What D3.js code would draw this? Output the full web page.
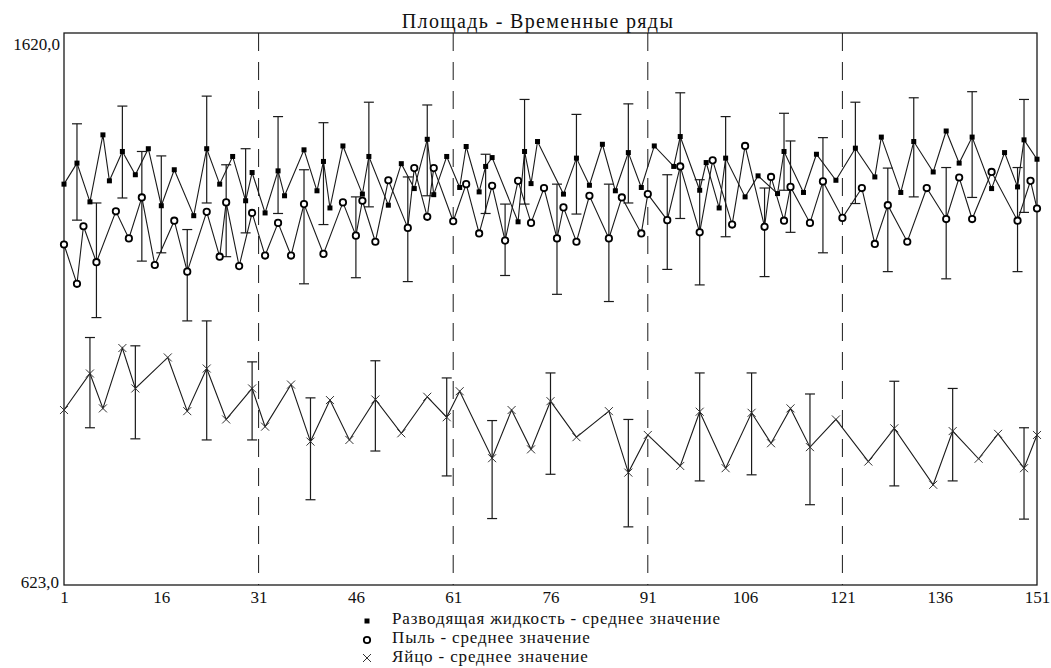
<!DOCTYPE html>
<html>
<head>
<meta charset="utf-8">
<script src="https://cdn.jsdelivr.net/npm/d3@7"></script>
<style>
  body { margin: 0; background: #fff; }
  svg { display: block; }
  text { font-family: "Liberation Serif", "Times New Roman", Tinos, "DejaVu Serif", serif; fill: #111; }
</style>
</head>
<body>
<svg id="chart"></svg>
<script>
document.addEventListener("DOMContentLoaded", function() {
  const width = 1051;
  const height = 668;
  const margin = {top: 33, right: 14, bottom: 83, left: 64};

  const title = "Площадь - Временные ряды";
  const yMin = 623, yMax = 1620;
  const xTicks = [1, 16, 31, 46, 61, 76, 91, 106, 121, 136, 151];
  const markers = [31, 61, 91, 121];

  // Разводящая жидкость (squares)
  const fluidX = [1,3,5,7,8,10,12,14,16,18,21,23,25,27,29,30,32,34,35,38,40,41,42,44,47,48,51,53,55,57,58,60,62,63,65,66,67,71,72,73,74,78,80,82,84,86,88,90,92,95,96,99,100,102,103,106,108,111,112,115,117,120,123,126,127,130,132,135,137,139,141,144,146,148,149,151];
  const fluidY = [1347,1385,1315,1436,1353,1406,1364,1411,1308,1373,
                  1290,1411,1347,1397,1317,1368,1295,1371,1326,1409,
                  1335,1388,1304,1416,1329,1397,1309,1384,1339,1428,
                  1328,1397,1341,1415,1333,1379,1395,1279,1406,1348,
                  1424,1329,1394,1345,1419,1335,1404,1341,1416,1379,
                  1433,1336,1386,1304,1394,1324,1362,1330,1406,1332,
                  1401,1354,1412,1360,1432,1332,1424,1369,1443,1385,
                  1432,1339,1404,1342,1427,1392];
  const fluidErrX  = [3,10,16,23,29,34,41,48,57,66,72,80,88,96,103,112,123,132,141,149];
  const fluidErrHi = [1456,1488,1398,1506,1411,1469,1458,1495,1490,1401,1500,1473,1492,1512,1469,1475,1495,1503,1514,1500];
  const fluidErrLo = [1282,1322,1223,1313,1259,1294,1274,1306,1326,1294,1311,1293,1313,1285,1252,1336,1312,1324,1323,1296];

  // Пыль (circles)
  const dustX = [1,3,4,6,9,11,13,15,18,20,23,25,26,28,30,32,34,36,38,41,44,46,47,49,51,54,55,57,58,61,63,65,67,69,71,73,75,77,78,80,82,85,87,90,91,94,96,99,101,104,106,109,110,112,113,116,118,121,124,126,128,131,134,137,139,141,144,148,150,151];
  const dustY = [1238,1167,1271,1206,1298,1249,1323,1201,1281,1189,
                 1297,1216,1314,1199,1295,1218,1277,1218,1311,1221,
                 1314,1254,1317,1243,1354,1268,1376,1288,1376,1280,
                 1347,1258,1344,1245,1353,1277,1340,1249,1305,1243,
                 1326,1249,1323,1258,1329,1282,1379,1260,1390,1274,
                 1416,1270,1360,1281,1342,1277,1352,1286,1340,1239,
                 1309,1243,1340,1284,1359,1284,1369,1281,1353,1303];
  const dustErrX  = [6,13,20,26,38,46,54,69,77,85,94,99,109,113,118,128,137,148];
  const dustErrHi = [1313,1406,1265,1382,1373,1324,1360,1311,1347,1347,1364,1355,1340,1425,1431,1376,1377,1377];
  const dustErrLo = [1106,1208,1100,1216,1167,1178,1171,1182,1148,1135,1193,1165,1180,1260,1223,1189,1176,1189];

  // Яйцо (crosses)
  const eggX = [1,5,7,10,12,17,20,23,26,30,32,36,39,42,45,49,53,57,60,62,67,70,73,76,80,85,88,91,96,99,103,107,110,113,116,120,125,129,135,138,142,145,149,151];
  const eggY = [939,1005,942,1051,978,1034,937,1014,922,978,
                909,985,882,957,885,958,897,963,926,973,
                852,939,868,955,890,937,826,894,838,936,
                834,934,879,942,872,922,846,906,804,901,
                851,896,834,894];
  const eggErrX  = [5,12,23,30,39,49,60,67,76,88,99,107,116,129,138,149];
  const eggErrHi = [1070,1055,1100,1026,961,1028,997,920,1006,922,1006,1006,968,991,978,907];
  const eggErrLo = [907,887,885,885,777,865,820,743,823,728,811,822,768,802,811,742];

  const legendLabels = [
    "Разводящая жидкость - среднее значение",
    "Пыль - среднее значение",
    "Яйцо - среднее значение"
  ];

  const ink = "#1a1a1a";

  const svg = d3.select("#chart")
                .attr("width", width)
                .attr("height", height);

  const x = d3.scaleLinear()
              .domain([1, 151])
              .range([margin.left, width - margin.right]);
  const y = d3.scaleLinear()
              .domain([yMin, yMax])
              .range([height - margin.bottom, margin.top]);

  //title
  svg.append("text")
     .attr("x", 538)
     .attr("y", 28)
     .attr("text-anchor", "middle")
     .attr("font-size", 20)
     .attr("letter-spacing", 1.35)
     .text(title);

  //dashed markers
  svg.append("g")
     .selectAll("line")
     .data(markers)
     .enter()
     .append("line")
       .attr("x1", d => x(d))
       .attr("x2", d => x(d))
       .attr("y1", y(yMax))
       .attr("y2", y(yMin))
       .attr("stroke", ink)
       .attr("stroke-width", 1)
       .attr("stroke-dasharray", "18,11");

  //frame
  svg.append("rect")
     .attr("x", x(1))
     .attr("y", y(yMax))
     .attr("width", x(151) - x(1))
     .attr("height", y(yMin) - y(yMax))
     .attr("fill", "none")
     .attr("stroke", ink)
     .attr("stroke-width", 1.3);

  //x axis labels
  const xAxis = d3.axisBottom(x)
                  .tickValues(xTicks)
                  .tickSize(0)
                  .tickPadding(0)
                  .tickFormat(d3.format("d"));
  const gx = svg.append("g")
                .attr("transform", `translate(0,${y(yMin)})`)
                .call(xAxis);
  gx.select(".domain").remove();
  gx.attr("font-family", null).attr("font-size", null);
  gx.selectAll("text")
    .attr("y", 18)
    .attr("dy", 0)
    .attr("font-size", 17)
    .attr("fill", "#111");

  //y labels (min and max only)
  const yFmt = d => d3.format(".1f")(d).replace(".", ",");
  svg.append("text")
     .attr("x", margin.left - 4)
     .attr("y", y(yMax) + 17)
     .attr("text-anchor", "end")
     .attr("font-size", 17)
     .text(yFmt(yMax));
  svg.append("text")
     .attr("x", margin.left - 5)
     .attr("y", y(yMin) + 3)
     .attr("text-anchor", "end")
     .attr("font-size", 17)
     .text(yFmt(yMin));

  //error bars
  function drawErrors(xs, lo, hi) {
    const rows = xs.map((d, i) => ({x: d, lo: lo[i], hi: hi[i]}));
    const g = svg.append("g").attr("stroke", ink).attr("stroke-width", 1.2);
    g.selectAll(".v").data(rows).enter().append("line")
      .attr("x1", d => x(d.x)).attr("x2", d => x(d.x))
      .attr("y1", d => y(d.hi)).attr("y2", d => y(d.lo));
    g.selectAll(".t").data(rows).enter().append("line")
      .attr("x1", d => x(d.x) - 5).attr("x2", d => x(d.x) + 5)
      .attr("y1", d => y(d.hi)).attr("y2", d => y(d.hi));
    g.selectAll(".b").data(rows).enter().append("line")
      .attr("x1", d => x(d.x) - 5).attr("x2", d => x(d.x) + 5)
      .attr("y1", d => y(d.lo)).attr("y2", d => y(d.lo));
  }
  drawErrors(fluidErrX, fluidErrLo, fluidErrHi);
  drawErrors(dustErrX, dustErrLo, dustErrHi);
  drawErrors(eggErrX, eggErrLo, eggErrHi);

  //series lines
  const line = d3.line().x(d => x(d[0])).y(d => y(d[1]));
  [[fluidX, fluidY], [dustX, dustY], [eggX, eggY]].forEach(s => {
    svg.append("path")
       .datum(s[0].map((d, i) => [d, s[1][i]]))
       .attr("fill", "none")
       .attr("stroke", ink)
       .attr("stroke-width", 1.1)
       .attr("d", line);
  });

  //markers
  function square(g, cx, cy) {
    g.append("rect").attr("x", cx - 2.5).attr("y", cy - 2.5)
     .attr("width", 5).attr("height", 5).attr("fill", "#000");
  }
  function circle(g, cx, cy) {
    g.append("circle").attr("cx", cx).attr("cy", cy).attr("r", 3.2)
     .attr("fill", "#fff").attr("stroke", "#000").attr("stroke-width", 1.8);
  }
  function cross(g, cx, cy, s) {
    g.append("path")
     .attr("d", `M${cx - s},${cy - s}L${cx + s},${cy + s}M${cx - s},${cy + s}L${cx + s},${cy - s}`)
     .attr("stroke", "#333").attr("stroke-width", 1).attr("fill", "none");
  }

  const gm = svg.append("g");
  fluidX.forEach((d, i) => square(gm, x(d), y(fluidY[i])));
  dustX.forEach((d, i) => circle(gm, x(d), y(dustY[i])));
  eggX.forEach((d, i) => cross(gm, x(d), y(eggY[i]), 4));

  //legend
  const legend = svg.append("g");
  const rowY = [624, 643, 662];
  square(legend, 367, rowY[0] - 3);
  circle(legend, 367, rowY[1] - 3);
  cross(legend, 367, rowY[2] - 4, 4);
  legend.selectAll("text")
        .data(legendLabels)
        .enter()
        .append("text")
          .attr("x", 392)
          .attr("y", (d, i) => rowY[i])
          .attr("font-size", 17)
          .attr("letter-spacing", 0.85)
          .text(d => d);
});
</script>
</body>
</html>
